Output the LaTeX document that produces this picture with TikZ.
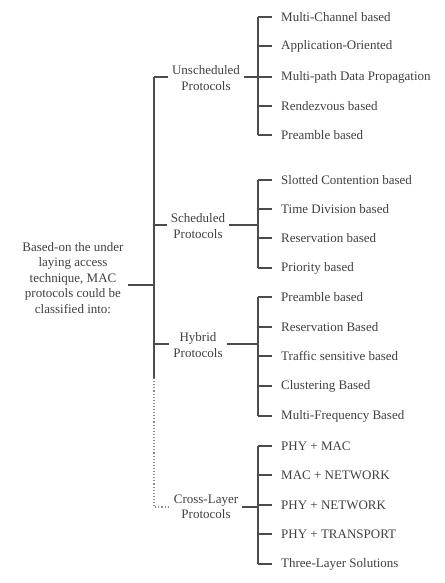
\documentclass[tikz,border=0pt]{standalone}
\usepackage{fontspec}
\setmainfont{Liberation Serif}
\begin{document}
\begin{tikzpicture}[x=1pt,y=-1pt,
  txt/.style={text=black!75, font=\fontsize{13}{15.5}\selectfont, inner sep=0pt},
  item/.style={txt, anchor=west},
  grp/.style={txt, align=center},
  ln/.style={draw=black!70, line width=1.3pt},
  dl/.style={draw=black!45, line width=1.1pt, dotted}]
\useasboundingbox (0,0) rectangle (444,583);
% root
\node[grp] (root) at (73,278) {Based-on the under\\laying access\\technique, MAC\\protocols could be\\classified into:};
\coordinate (jr) at (154,285);
\coordinate (ttop) at (154,77);
\coordinate (tsol) at (154,378);
\coordinate (tbot) at (154,507);
% groups
\node[grp] (g1) at (206,78) {Unscheduled\\Protocols};
\node[grp] (g2) at (198,226) {Scheduled\\Protocols};
\node[grp] (g3) at (198,345) {Hybrid\\Protocols};
\node[grp] (g4) at (206,507) {Cross-Layer\\Protocols};
% items
\foreach \n/\y/\t in {a1/17/Multi-Channel based, a2/46/Application-Oriented, a3/77/Multi-path Data Propagation, a4/106/Rendezvous based, a5/135/Preamble based,
  b1/180/Slotted Contention based, b2/209/Time Division based, b3/238/Reservation based, b4/268/Priority based,
  c1/297/Preamble based, c2/327/Reservation Based, c3/356/Traffic sensitive based, c4/386/Clustering Based, c5/416/Multi-Frequency Based,
  d1/446/PHY + MAC, d2/475/MAC + NETWORK, d3/505/PHY + NETWORK, d4/534/PHY + TRANSPORT, d5/564/Three-Layer Solutions}
  \node[item] (\n) at (281,\y) {\t};
% root connector and trunk
\draw[ln] (root.east |- jr) ++(4,0) -- (jr);
\draw[ln] (ttop) -- (tsol);
\draw[dl] (tsol) -- (tbot) -- ([xshift=-4pt]g4.west |- tbot);
\draw[ln] (ttop) -- ([xshift=-4pt]g1.west |- ttop);
\draw[ln] (154,225) -- ([xshift=-4pt]g2.west |- 154,225);
\draw[ln] (154,344) -- ([xshift=-4pt]g3.west |- 154,344);
% sub-trees
\foreach \g/\yc/\first/\last/\items in {g1/77/a1/a5/{a1,a2,a3,a4,a5}, g2/225/b1/b4/{b1,b2,b3,b4}, g3/344/c1/c5/{c1,c2,c3,c4,c5}, g4/507/d1/d5/{d1,d2,d3,d4,d5}}{
  \draw[ln] ([xshift=4pt]\g.east |- 0,\yc) -- (258,\yc);
  \draw[ln] (258,0 |- \first.west) -- (258,0 |- \last.west);
  \foreach \i in \items { \draw[ln] (258,0 |- \i.west) -- ([xshift=-9pt]\i.west); }
}
\end{tikzpicture}
\end{document}
